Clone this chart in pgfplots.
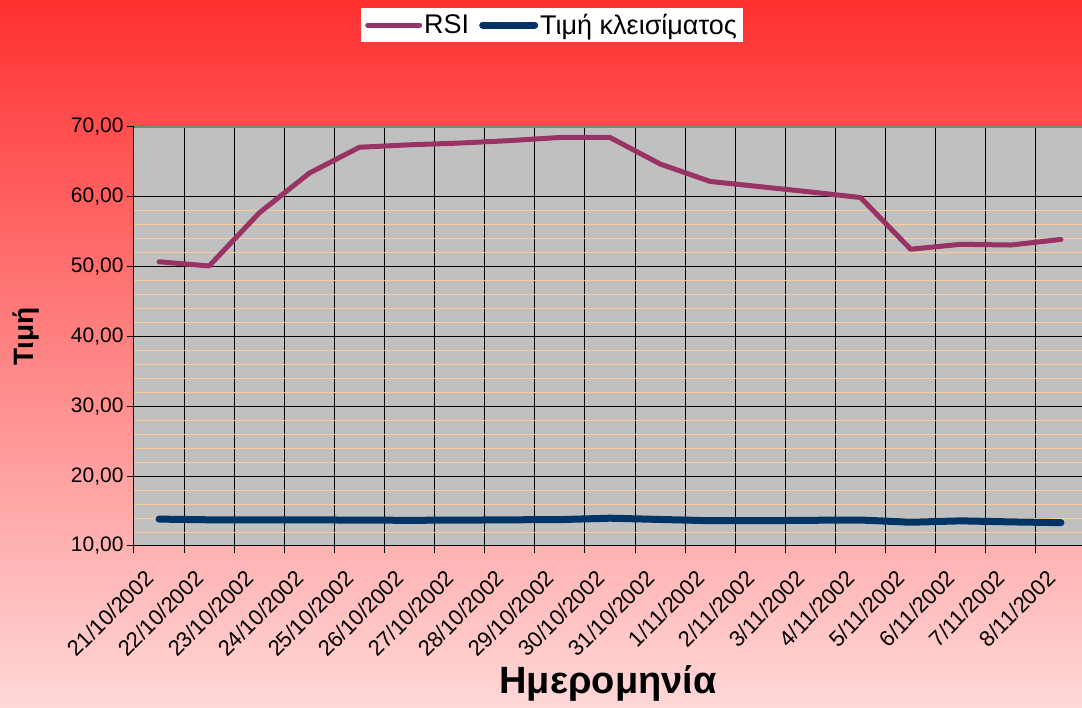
\documentclass[border=0pt]{standalone}
\usepackage{fontspec}
\setmainfont{Liberation Sans}
\usepackage{pgfplots}
\usepackage{pgfplotstable}
\pgfplotsset{compat=1.18}
\definecolor{rsi}{HTML}{993366}
\definecolor{closec}{HTML}{003366}
\definecolor{plotbg}{HTML}{C0C0C0}
\definecolor{mgrid}{HTML}{FFCC99}
\definecolor{bgtop}{RGB}{255,48,48}
\definecolor{bgbot}{RGB}{255,216,216}

\pgfplotstableread{
k rsi close
0 50.7 13.85
1 50.1 13.75
2 57.7 13.75
3 63.4 13.75
4 67.1 13.70
5 67.45 13.68
6 67.7 13.70
7 68.05 13.75
8 68.5 13.78
9 68.5 13.98
10 64.7 13.80
11 62.2 13.62
12 61.45 13.62
13 60.7 13.68
14 59.9 13.72
15 52.5 13.40
16 53.2 13.60
17 53.1 13.45
18 53.9 13.34
}\datatable

\begin{document}
\begin{tikzpicture}[x=1pt,y=1pt]
\useasboundingbox (0,0) rectangle (1082,708);
\shade[top color=bgtop, bottom color=bgbot] (0,0) rectangle (1082,708);
\begin{axis}[
  at={(134pt,162pt)}, anchor=south west,
  width=948pt, height=419pt, scale only axis,
  xmin=-0.5, xmax=18.42, ymin=10, ymax=70,
  axis background/.style={fill=plotbg},
  axis x line*=bottom, axis y line*=left,
  axis line style={black, line width=1pt, -},
  tick align=outside,
  major tick length=7pt,
  tick style={black, line width=1pt},
  xtick={-0.5,0.5,...,17.5},
  xticklabels={21/10/2002,22/10/2002,23/10/2002,24/10/2002,25/10/2002,26/10/2002,27/10/2002,28/10/2002,29/10/2002,30/10/2002,31/10/2002,1/11/2002,2/11/2002,3/11/2002,4/11/2002,5/11/2002,6/11/2002,7/11/2002,8/11/2002},
  xticklabel style={anchor=east, xshift=17.7pt, yshift=-19pt, rotate=45, font=\fontsize{22}{26}\selectfont},
  ytick={10,20,...,60},
  extra y ticks={70},
  extra y tick style={major grid style={gray, line width=1.6pt}},
  minor y tick num=4,
  minor tick length=0pt,
  grid=both,
  major grid style={black, line width=1pt},
  minor grid style={mgrid, line width=0.8pt},
  yticklabel style={font=\fontsize{21}{25}\selectfont},
  /pgf/number format/.cd, fixed, fixed zerofill, precision=2, use comma, assume math mode=true,
  /pgfplots/.cd,
  xlabel={Ημερομηνία},
  xlabel style={at={(axis description cs:0.5,-0.329)}, anchor=center, font=\bfseries\fontsize{38}{44}\selectfont},
  ylabel={Τιμή},
  ylabel style={at={(axis description cs:-0.114,0.5)}, anchor=center, font=\bfseries\fontsize{28}{34}\selectfont},
  legend columns=2,
  legend image code/.code={\draw[#1] (0pt,0pt) -- (52pt,0pt);},
  legend style={at={(axis description cs:0.441,1.2434)}, anchor=center, draw=none, fill=white,
    font=\fontsize{27}{32}\selectfont, inner xsep=4pt, inner ysep=4pt,
    /tikz/every even column/.append style={column sep=8pt}},
]
\addplot[rsi, line width=5pt, line cap=round, line join=round] table[x=k, y=rsi] {\datatable};
\addlegendentry{RSI}
\addplot[closec, line width=7pt, line cap=round, line join=round] table[x=k, y=close] {\datatable};
\addlegendentry{Τιμή κλεισίματος}
\end{axis}
\end{tikzpicture}
\end{document}
